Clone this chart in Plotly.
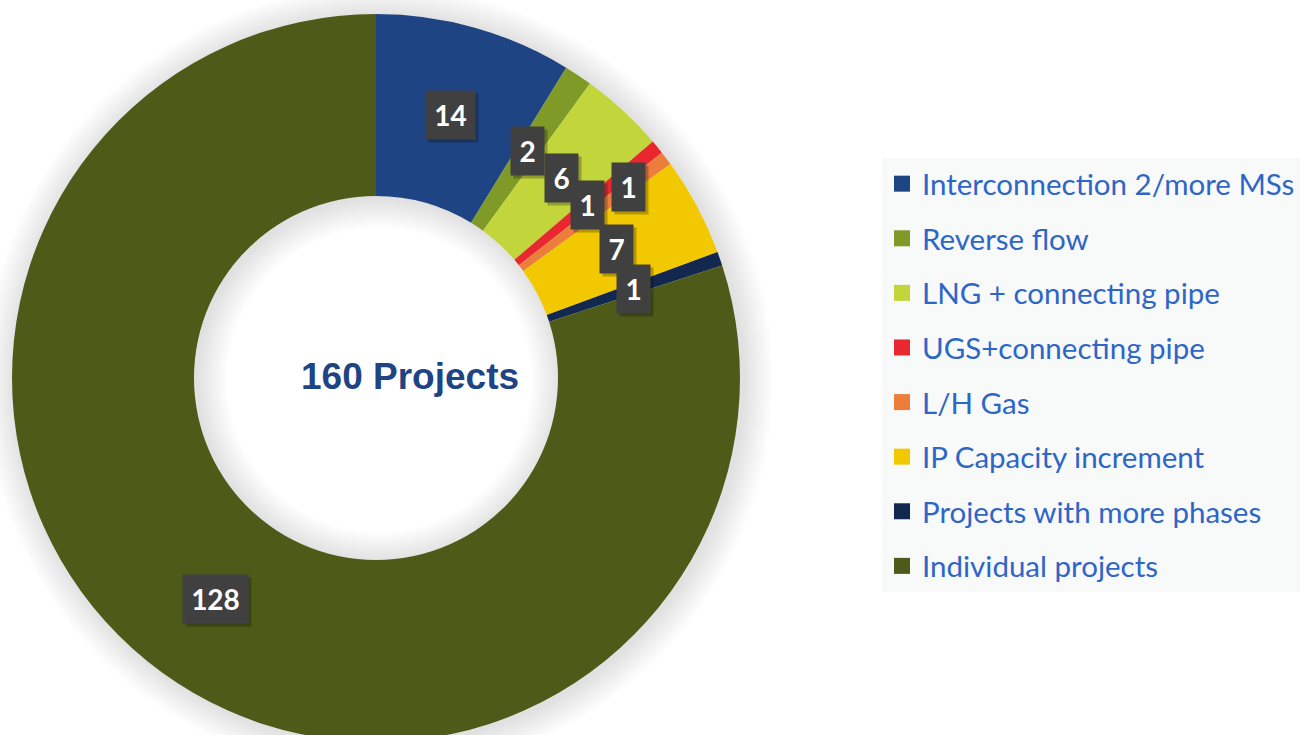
import math
import plotly.graph_objects as go

# ---- data ----
categories = [
    "Interconnection 2/more MSs",
    "Reverse flow",
    "LNG + connecting pipe",
    "UGS+connecting pipe",
    "L/H Gas",
    "IP Capacity increment",
    "Projects with more phases",
    "Individual projects",
]
values = [14, 2, 6, 1, 1, 7, 1, 128]
colors = ["#1F4484", "#7F9A26", "#C2D53A", "#E8282E", "#ED7D3A", "#F2C800", "#13284F", "#4E5A18"]
center_text = "160 Projects"

# ---- layout constants ----
W, H = 1301, 756
CX, CY, R = 376, 378, 364
RIN = 182
LABEL_R = 0.75
label_push = {"L/H Gas": 0.87}


def to_paper(px, py):
    return px / W, 1 - py / H


def ring_path(cx, cy, ro, ri, n=160):
    pts_o = []
    pts_i = []
    for i in range(n):
        a = 2 * math.pi * i / n
        pts_o.append(to_paper(cx + ro * math.cos(a), cy + ro * math.sin(a)))
        pts_i.append(to_paper(cx + ri * math.cos(-a), cy + ri * math.sin(-a)))
    s = "M %.5f,%.5f " % pts_o[0] + " ".join("L %.5f,%.5f" % p for p in pts_o[1:]) + " Z "
    s += "M %.5f,%.5f " % pts_i[0] + " ".join("L %.5f,%.5f" % p for p in pts_i[1:]) + " Z"
    return s


fig = go.Figure()

fig.add_trace(go.Pie(
    labels=categories, values=values, sort=False, direction="clockwise", rotation=0,
    hole=RIN / R, marker=dict(colors=colors, line=dict(width=0)),
    textinfo="none", hoverinfo="label+value", showlegend=False,
    domain=dict(x=[(CX - R) / W, (CX + R) / W], y=[1 - (CY + R) / H, 1 - (CY - R) / H]),
))

# legend entries
for cat, col in zip(categories, colors):
    fig.add_trace(go.Scatter(
        x=[None], y=[None], mode="markers", name=cat, legendgroup=cat,
        marker=dict(symbol="square", size=16, color=col),
    ))

# soft glow around the ring
shapes = []
for k in range(2, 32, 2):
    shapes.append(dict(
        type="path", xref="paper", yref="paper", layer="below",
        path=ring_path(CX + 3, CY + 2, R + k, max(RIN - k, 1)),
        fillcolor="rgba(0,0,0,0.007)", line=dict(width=0),
    ))

annotations = []
total = sum(values)
cum = 0
for cat, v in zip(categories, values):
    mid = (cum + v / 2) / total * 2 * math.pi
    cum += v
    rr = label_push.get(cat, LABEL_R) * R
    px = CX + rr * math.sin(mid)
    py = CY - rr * math.cos(mid)
    txt = str(v)
    bw = 17 + 16 * len(txt)
    annotations.append(dict(
        x=(px + 3) / W, y=1 - (py + 3) / H, xref="paper", yref="paper", text=" ",
        xanchor="center", yanchor="middle",
        showarrow=False, width=bw, height=48, bgcolor="rgba(0,0,0,0.25)", borderpad=0,
        font=dict(size=26),
    ))
    annotations.append(dict(
        x=px / W, y=1 - py / H, xref="paper", yref="paper", text="<b>%s</b>" % txt,
        xanchor="center", yanchor="middle",
        showarrow=False, width=bw, height=48, bgcolor="#404040", borderpad=0,
        font=dict(family="Lato, Carlito, sans-serif", size=28, color="white"),
    ))

annotations.append(dict(
    x=410 / W, y=1 - 377 / H, xref="paper", yref="paper", text="<b>%s</b>" % center_text,
    xanchor="center", yanchor="middle",
    showarrow=False, font=dict(family="Liberation Sans, Arial, sans-serif", size=37, color="#1F4484"),
))

fig.update_layout(
    width=W, height=H, margin=dict(l=0, r=0, t=0, b=0),
    paper_bgcolor="white", plot_bgcolor="rgba(0,0,0,0)",
    xaxis=dict(visible=False), yaxis=dict(visible=False),
    showlegend=True,
    legend=dict(
        x=882 / W, xanchor="left", y=1 - 158 / H, yanchor="top",
        bgcolor="#F8F9F9", traceorder="grouped", tracegroupgap=13.25,
        font=dict(family="Lato, Carlito, sans-serif", size=29.5, color="#2E66C8"),
        itemclick=False, itemdoubleclick=False,
    ),
    shapes=shapes,
    annotations=annotations,
)

fig.write_html(
    "out.html",
    config={"displayModeBar": False},
    post_script="document.body.style.margin='0';document.body.style.overflow='hidden';document.documentElement.style.overflow='hidden';",
)
